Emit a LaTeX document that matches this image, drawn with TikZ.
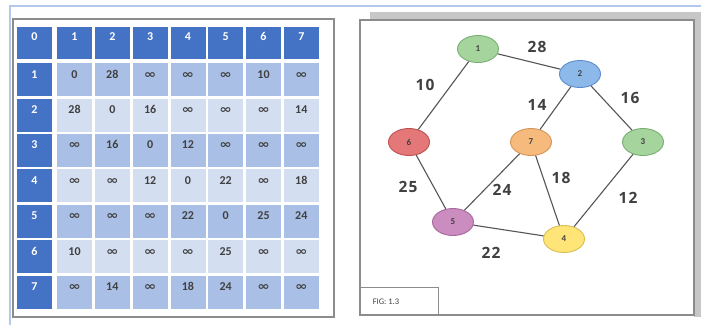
\documentclass[tikz,border=0pt]{standalone}
\usepackage{fontspec}
\setmainfont{Carlito}
\newfontfamily\lblfont[LetterSpace=8]{Open Sans}
\newfontfamily\symfont{DejaVu Sans}
\usetikzlibrary{shapes.geometric}
\definecolor{hdrblue}{HTML}{4472C4}
\definecolor{rowdark}{HTML}{AABFE5}
\definecolor{rowlight}{HTML}{D3DEF1}
\definecolor{celltxt}{HTML}{404040}
\definecolor{bandblue}{HTML}{B4C8EE}
\definecolor{boxgray}{HTML}{8C8C8C}
\definecolor{edgegray}{HTML}{555555}
\newcommand{\myinf}{{\symfont\bfseries\fontsize{13}{13}\selectfont\scalebox{1.15}[0.9]{∞}}}
\newcommand{\tablerow}[2]{%
  \pgfmathsetmacro{\yy}{63+35.4*(#1-1)}
  \pgfmathtruncatemacro{\odd}{mod(#1,2)}
  \ifnum\odd=1 \def\cellcol{rowdark}\else\def\cellcol{rowlight}\fi
  \node[hdrcell, minimum height=33pt] (r#1) at (17,\yy) {};
  \node[celltext, text=white] at (34.5,\yy+15) {#1};
  \foreach \v [count=\c] in {#2} {
    \pgfmathsetmacro{\xx}{57+37.8*(\c-1)}
    \node[datacell, fill=\cellcol] (c#1-\c) at (\xx,\yy) {};
    \node[celltext, text=celltxt] at (\xx+17.5,\yy+15) {\v};
  }
}
\tikzset{
  hdrcell/.style={fill=hdrblue, draw=none, minimum width=35pt, minimum height=32pt, anchor=north west, inner sep=0pt},
  datacell/.style={draw=none, minimum width=35pt, minimum height=33pt, anchor=north west, inner sep=0pt},
  celltext/.style={anchor=base, font=\fontsize{12}{12}\selectfont\bfseries, inner sep=0pt},
  gnode/.style={ellipse, minimum width=41pt, minimum height=27pt, inner sep=0pt, line width=0.9pt, font=\fontsize{9}{9}\selectfont\bfseries, text=celltxt},
  wlabel/.style={font=\lblfont\bfseries\fontsize{15.5}{15.5}\selectfont, text=celltxt},
  edge/.style={draw=edgegray, line width=1.1pt}
}
\begin{document}
\begin{tikzpicture}[x=1pt, y=-1pt]
\useasboundingbox (0,0) rectangle (701,325);
\fill[white] (0,0) rectangle (701,325);
% blue page edges
\draw[bandblue, line width=2pt] (10,325) -- (10,6) -- (701,6);
% left panel
\draw[boxgray, line width=1.3pt] (13,19) rectangle (334,317);
% right panel shadow and box
\fill[black!22] (370,12) rectangle (701,20);
\fill[black!22] (694,12) rectangle (701,317);
\fill[white] (360,20) rectangle (694,315);
\draw[boxgray, line width=1.3pt] (360,20) rectangle (694,315);
\node[draw=boxgray, line width=1pt, anchor=north west, minimum width=78pt, minimum height=28pt, inner sep=0pt] (figbox) at (360,287) {};
\node[font=\fontsize{8.5}{8.5}\selectfont, text=celltxt] (figlbl) at (386,302) {FIG: 1.3};
% table header row
\foreach \c in {0,...,7} {
  \pgfmathsetmacro{\xx}{\c==0 ? 17 : 57+37.8*(\c-1)}
  \node[hdrcell] (h\c) at (\xx,27) {};
  \node[celltext, text=white] at (\xx+17.5,40) {\c};
}
\tablerow{1}{0,28,\myinf,\myinf,\myinf,10,\myinf}
\tablerow{2}{28,0,16,\myinf,\myinf,\myinf,14}
\tablerow{3}{\myinf,16,0,12,\myinf,\myinf,\myinf}
\tablerow{4}{\myinf,\myinf,12,0,22,\myinf,18}
\tablerow{5}{\myinf,\myinf,\myinf,22,0,25,24}
\tablerow{6}{10,\myinf,\myinf,\myinf,25,\myinf,\myinf}
\tablerow{7}{\myinf,14,\myinf,18,24,\myinf,\myinf}
% graph
\node[gnode, fill={rgb,255:red,166;green,212;blue,157}, draw={rgb,255:red,120;green,175;blue,115}] (n1) at (478,49) {1};
\node[gnode, fill={rgb,255:red,141;green,185;blue,234}, draw={rgb,255:red,90;green,140;blue,205}] (n2) at (580,74) {2};
\node[gnode, fill={rgb,255:red,166;green,212;blue,157}, draw={rgb,255:red,120;green,175;blue,115}] (n3) at (643,142) {3};
\node[gnode, fill={rgb,255:red,255;green,228;blue,120}, draw={rgb,255:red,215;green,190;blue,80}] (n4) at (564,239) {4};
\node[gnode, fill={rgb,255:red,203;green,140;blue,192}, draw={rgb,255:red,165;green,105;blue,155}] (n5) at (453,222) {5};
\node[gnode, fill={rgb,255:red,228;green,120;blue,120}, draw={rgb,255:red,190;green,80;blue,80}] (n6) at (409,142) {6};
\node[gnode, fill={rgb,255:red,247;green,186;blue,125}, draw={rgb,255:red,210;green,150;blue,90}] (n7) at (531,142) {7};
\draw[edge] (n1) -- (n2);
\draw[edge] (n1) -- (n6);
\draw[edge] (n2) -- (n7);
\draw[edge] (n2) -- (n3);
\draw[edge] (n6) -- (n5);
\draw[edge] (n7) -- (n5);
\draw[edge] (n7) -- (n4);
\draw[edge] (n3) -- (n4);
\draw[edge] (n5) -- (n4);
\node[wlabel] (w12) at (537,47) {28};
\node[wlabel] (w16) at (425,85) {10};
\node[wlabel] (w27) at (537,105) {14};
\node[wlabel] (w23) at (630,98) {16};
\node[wlabel] (w65) at (408,187) {25};
\node[wlabel] (w75) at (502,190) {24};
\node[wlabel] (w74) at (561,178) {18};
\node[wlabel] (w34) at (628,198) {12};
\node[wlabel] (w54) at (491,253) {22};
\end{tikzpicture}
\end{document}
